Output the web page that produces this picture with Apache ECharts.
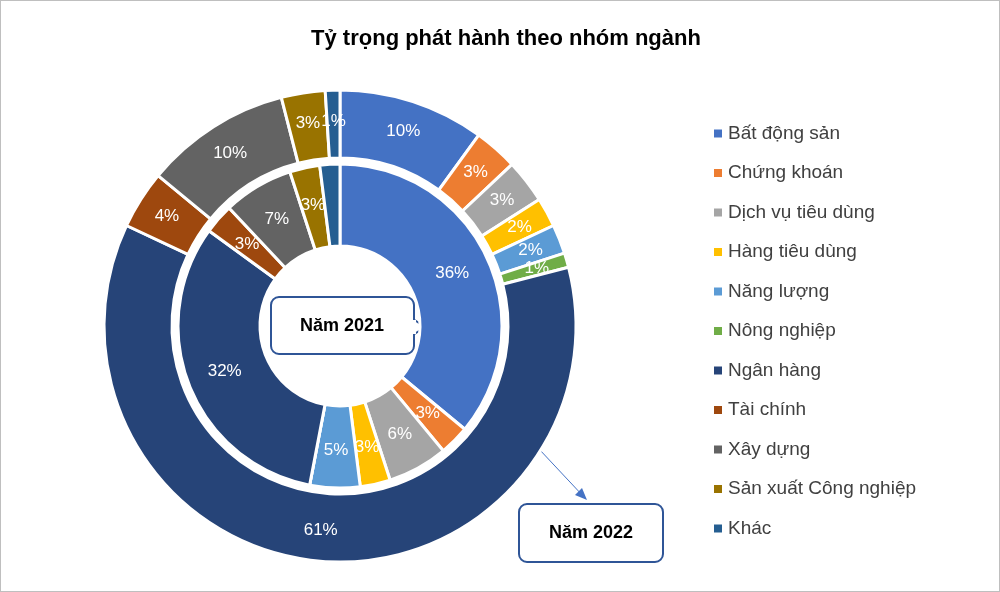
<!DOCTYPE html><html><head><meta charset="utf-8">
<script src="https://cdn.jsdelivr.net/npm/echarts@6/dist/echarts.min.js"></script>
<style>html,body{margin:0;padding:0;background:#fff}#c{width:1000px;height:592px;box-sizing:border-box;border:1px solid #bfbfbf}</style>
</head><body><div id="c"></div><script>
const categories=["Bất động sản","Chứng khoán","Dịch vụ tiêu dùng","Hàng tiêu dùng","Năng lượng","Nông nghiệp","Ngân hàng","Tài chính","Xây dựng","Sản xuất Công nghiệp","Khác"];
const values2021=[36,3,6,3,5,0,32,3,7,3,2];
const values2022=[10,3,3,2,2,1,61,4,10,3,1];
const colors=["#4472C4","#ED7D31","#A5A5A5","#FFC000","#5B9BD5","#70AD47","#264478","#9E480E","#636363","#997300","#255E91"];
const ch=echarts.init(document.getElementById('c'));
const mk=v=>categories.map((n,i)=>({name:n,value:v[i]}));
const lbl={show:true,position:'inside',color:'#fff',fontSize:17,fontFamily:'Liberation Sans',formatter:'{c}%'};
ch.setOption({
color:colors,
title:{text:'Tỷ trọng phát hành theo nhóm ngành',left:500,top:22,textAlign:'center',textStyle:{fontSize:22,fontWeight:'bold',color:'#000',fontFamily:'Liberation Sans'}},
legend:{orient:'vertical',left:706,top:118,itemWidth:10,itemHeight:10,itemGap:20.5,icon:'rect',textStyle:{fontSize:19,color:'#404040',fontFamily:'Liberation Sans'},data:categories},
series:[
{type:'pie',center:[339,325],radius:[80,162],startAngle:90,data:mk(values2021),label:lbl,labelLine:{show:false},itemStyle:{borderColor:'#fff',borderWidth:3},silent:true,avoidLabelOverlap:false},
{type:'pie',center:[339,325],radius:[168,236],startAngle:90,data:mk(values2022),label:lbl,labelLine:{show:false},itemStyle:{borderColor:'#fff',borderWidth:3},silent:true,avoidLabelOverlap:false}
],
graphic:[
{type:'line',shape:{x1:538,y1:448,x2:583,y2:496},style:{stroke:'#4472C4',lineWidth:1}},
{type:'polygon',shape:{points:[[586,499],[574,494],[581,487]]},style:{fill:'#4472C4'}},
{type:'polygon',shape:{points:[[412,318],[424,326],[412,334]]},style:{fill:'#fff',stroke:'#2F5597',lineWidth:2}},
{type:'rect',shape:{x:270,y:296,width:143,height:57,r:8},style:{fill:'#fff',stroke:'#2F5597',lineWidth:2}},
{type:'rect',shape:{x:411,y:319,width:4,height:14},style:{fill:'#fff'}},
{type:'text',x:341,y:325,style:{text:'Năm 2021',fontSize:18,fontWeight:'bold',fill:'#000',align:'center',verticalAlign:'middle',fontFamily:'Liberation Sans'}},
{type:'rect',shape:{x:518,y:503,width:144,height:58,r:8},style:{fill:'#fff',stroke:'#2F5597',lineWidth:2}},
{type:'text',x:590,y:532,style:{text:'Năm 2022',fontSize:18,fontWeight:'bold',fill:'#000',align:'center',verticalAlign:'middle',fontFamily:'Liberation Sans'}}
]});
</script></body></html>
